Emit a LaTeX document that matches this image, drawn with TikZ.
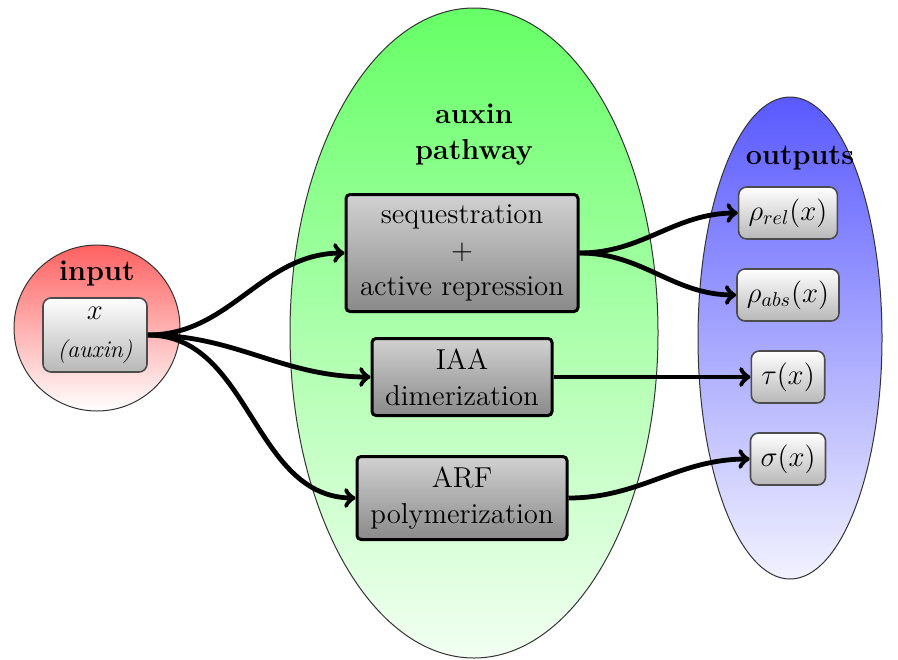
\documentclass[tikz,border=0pt]{standalone}
\usepackage{amsmath}
\usepackage{amssymb}
\usetikzlibrary{shapes.geometric,arrows}

\tikzset{
  blob/.style={draw=black!80, line width=0.5pt, inner sep=0pt},
  title/.style={font=\Large\bfseries, align=center},
  procbox/.style={draw, line width=1.5pt, rounded corners=2pt, top color=black!18, bottom color=black!46, align=center, font=\Large},
  valbox/.style={draw=black!70, line width=0.8pt, rounded corners=4pt, top color=white, bottom color=black!28, align=center, font=\Large, inner xsep=5pt, minimum height=26pt},
  flow/.style={->, >=to, line width=2.4pt}
}

\begin{document}
\begin{tikzpicture}[x=0.5pt, y=-0.5pt, node distance=41pt]
\useasboundingbox (0,0) rectangle (898,659);

% the three groups
\node[blob, circle, minimum size=83pt, top color=red!62, bottom color=white] (inp) at (97,328) {};
\node[blob, ellipse, minimum width=184pt, minimum height=325pt, top color=green!60, bottom color=green!5] (path) at (474,333) {};
\node[blob, ellipse, minimum width=92pt, minimum height=241pt, top color=blue!65, bottom color=blue!5] (outs) at (790,338) {};

\node[title] (inplbl) at (97,273) {input};
\node[title] (pathlbl) at (474,135) {auxin\\pathway};
\node[title] (outslbl) at (800,158) {outputs};

% input
\node[valbox, minimum width=52pt, minimum height=37pt] (xin) at (95,335) {$x$\\[1pt]{\large\textit{(auxin)}}};

% pathway
\node[procbox, minimum width=116pt, minimum height=58.5pt] (seq) at (462,253) {sequestration\\$+$\\active repression};
\node[procbox, minimum width=90pt, minimum height=38.5pt, below of=seq, node distance=62pt] (iaa) {IAA\\dimerization};
\node[procbox, minimum width=105pt, minimum height=41.5pt, below of=iaa, node distance=60.5pt] (arf) {ARF\\polymerization};

% outputs
\node[valbox] (rhorel) at (788,213) {$\rho_{rel}(x)$};
\node[valbox, below of=rhorel] (rhoabs) {$\rho_{abs}(x)$};
\node[valbox, below of=rhoabs] (tau) {$\tau(x)$};
\node[valbox, below of=tau] (sigma) {$\sigma(x)$};

\draw[flow] (xin.east) to[out=0, in=180] (seq.west);
\draw[flow] (xin.east) to[out=0, in=180] (iaa.west);
\draw[flow] (xin.east) to[out=0, in=180] (arf.west);
\draw[flow] (seq.east) to[out=0, in=180] (rhorel.west);
\draw[flow] (seq.east) to[out=0, in=180] (rhoabs.west);
\draw[flow] (iaa.east) to (tau.west);
\draw[flow] (arf.east) to[out=0, in=180] (sigma.west);
\end{tikzpicture}
\end{document}
